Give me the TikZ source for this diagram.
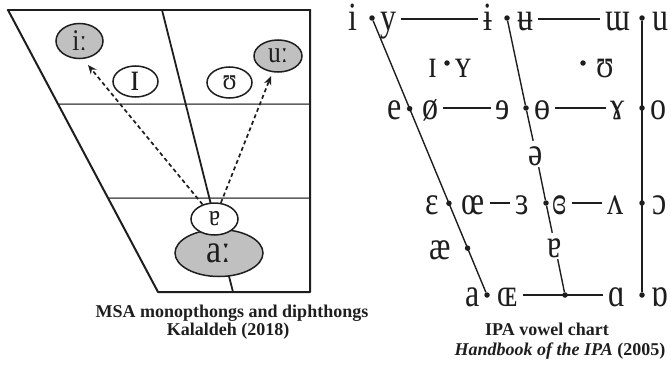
\documentclass[tikz,border=0pt]{standalone}
\usepackage{fontspec}
\setmainfont{Liberation Serif}
\newfontfamily\ipafont[FakeStretch=0.8]{Liberation Serif}
\newfontfamily\lblfont[FakeStretch=0.85]{Liberation Serif}
\usetikzlibrary{arrows.meta,calc,shapes.geometric}
\definecolor{shade}{RGB}{192,192,192}
\definecolor{ink}{RGB}{30,30,30}
\tikzset{
  frame/.style={draw=ink,line width=2pt,line cap=round,line join=round},
  topedge/.style={draw=ink,line width=2.8pt,line cap=round},
  gridline/.style={draw=ink!70,line width=1.5pt},
  midline/.style={draw=ink,line width=1.8pt},
  vowel/.style={ellipse,draw=ink,line width=1.5pt,inner sep=0pt,text=ink,font=\lblfont\fontsize{30}{32}\selectfont},
  bigvowel/.style={font=\lblfont\fontsize{40}{42}\selectfont},
  darrow/.style={draw=ink,line width=1.7pt,dash pattern=on 4pt off 3pt,-{Stealth[length=9pt,width=7.5pt]}},
  capt/.style={inner sep=0pt,anchor=base,font=\bfseries\fontsize{18}{20}\selectfont,text=ink},
  ipa/.style={inner xsep=5pt,inner ysep=2pt,anchor=center,text height=22pt,text depth=0pt,
    font=\ipafont\fontsize{40}{42}\selectfont,text=ink},
  vdot/.style={circle,fill=ink,inner sep=0pt,minimum size=5.5pt},
  ipaline/.style={draw=ink,line width=1.4pt},
  backline/.style={draw=ink,line width=2pt}
}
\begin{document}
\begin{tikzpicture}[x=1pt,y=-1pt]
\useasboundingbox (0,0) rectangle (671,364);
% ---------------- left chart ----------------
\coordinate (TL) at (8,10);
\coordinate (TR) at (310,10);
\coordinate (BR) at (310,292);
\coordinate (BL) at (158,292);
\coordinate (MT) at (162,10);
\coordinate (MB) at (233,292);
\coordinate (H1L) at ($(TL)!1/3!(BL)$);
\coordinate (H1R) at (310,104);
\coordinate (H2L) at ($(TL)!2/3!(BL)$);
\coordinate (H2R) at (310,198);
\draw[gridline] (H1L) -- (H1R);
\draw[gridline] (H2L) -- (H2R);
\draw[midline] (MT) -- (MB);
\draw[frame] (TL) -- (BL) -- (BR) -- (TR);
\draw[topedge] (TL) -- (TR);

\node[vowel,fill=shade,minimum width=47pt,minimum height=35pt] (ii) at (79.5,41) {iː};
\node[vowel,fill=shade,minimum width=48pt,minimum height=32pt] (uu) at (278,56) {uː};
\node[vowel,fill=white,minimum width=45pt,minimum height=31pt,bigvowel] (ih) at (135.5,81.5) {ɪ};
\node[vowel,fill=white,minimum width=45pt,minimum height=31pt] (uh) at (229.5,82.5) {ʊ};
\node[vowel,fill=shade,minimum width=88pt,minimum height=47pt,bigvowel] (aa) at (219,253) {\raisebox{-7pt}{aː}};
\node[vowel,fill=white,minimum width=47pt,minimum height=32pt] (sch) at (214.5,219) {ɐ};
\coordinate (tipL) at (88,65);
\coordinate (tipR) at (271,76);
\draw[darrow] (sch) -- (tipL);
\draw[darrow] (sch) -- (tipR);

\node[capt] (cap1) at (232,317) {MSA monopthongs and diphthongs};
\node[capt] (cap2) at (228,335) {Kalaldeh (2018)};

% ---------------- IPA chart ----------------
% front-line end dots
\node[vdot] (d11) at (372,18) {};
\node[vdot] (d61) at (487,295) {};
% row 1 (close)
\node[ipa] (i) at (353,19) {i};
\node[ipa] (y) at (388,19) {y};
\node[ipa] (ib) at (488,19) {ɨ};
\node[vdot] (d12) at (507,18) {};
\node[ipa] (ub) at (525,19) {ʉ};
\node[ipa] (um) at (618,19) {ɯ};
\node[vdot] (d13) at (642,18) {};
\node[ipa] (u) at (660,19) {u};
% row 2 (near-close)
\node[ipa] (I) at (433,66) {ɪ};
\node[vdot] (d21) at (447,63) {};
\node[ipa] (Y) at (463,66) {ʏ};
\node[vdot] (d22) at (583,63) {};
\node[ipa] (U) at (605,66) {ʊ};
% row 3 (close-mid)
\node[ipa] (e) at (395,108) {e};
\node[vdot] (d31) at ($(d11)!0.3273!(d61)$) {};
\node[ipa] (oe) at (430,108) {ø};
\node[ipa] (re) at (503,108) {ɘ};
\node[vdot] (d32) at (526,108) {};
\node[ipa] (bo) at (542,108) {ɵ};
\node[ipa] (ga) at (618,108) {ɤ};
\node[vdot] (d33) at (642,108) {};
\node[ipa] (o) at (658,108) {o};
% schwa
\node[ipa] (schwa) at (536,154) {ə};
% row 4 (open-mid)
\node[ipa] (eps) at (432,203) {ɛ};
\node[vdot] (d41) at ($(d11)!0.6691!(d61)$) {};
\node[ipa] (oel) at (473,203) {œ};
\node[ipa] (reps) at (522,203) {ɜ};
\node[vdot] (d42) at (546,203) {};
\node[ipa] (ceps) at (560,203) {ɞ};
\node[ipa] (wedge) at (615,203) {ʌ};
\node[vdot] (d43) at (642,203) {};
\node[ipa] (oo) at (660,203) {ɔ};
% row 5 (near-open)
\node[ipa] (ae) at (440,248) {æ};
\node[vdot] (d51) at ($(d11)!0.8309!(d61)$) {};
\node[ipa] (ta) at (555,246) {ɐ};
% row 6 (open)
\node[ipa] (a) at (473,295) {a};
\node[ipa] (OE) at (508,295) {ɶ};
\node[ipa] (alpha) at (617,295) {ɑ};
\node[vdot] (d63) at (642,295) {};
\node[ipa] (ra) at (660,295) {ɒ};

% horizontal connectors
\draw[ipaline] (y) -- (ib);
\draw[ipaline] (ub) -- (um);
\draw[ipaline] (oe) -- (re);
\draw[ipaline] (bo) -- (ga);
\draw[ipaline] (oel) -- (reps);
\draw[ipaline] (ceps) -- (wedge);
\draw[ipaline] (OE) -- (alpha);
\node[vdot] (d62) at (565,295) {};
% slanted / vertical connectors
\draw[ipaline] (d11) -- (d61);
\draw[ipaline] (d12) -- (d32);
\draw[ipaline] (d32) -- (schwa);
\draw[ipaline] (schwa) -- (d42);
\draw[ipaline] (d42) -- (ta);
\draw[ipaline] (ta) -- (d62);
\draw[backline] (d13) -- (d63);

\node[capt] (cap3) at (547,335) {IPA vowel chart};
\node[capt] (cap4) at (560,355) {\textit{Handbook of the IPA} (2005)};
\end{tikzpicture}
\end{document}
